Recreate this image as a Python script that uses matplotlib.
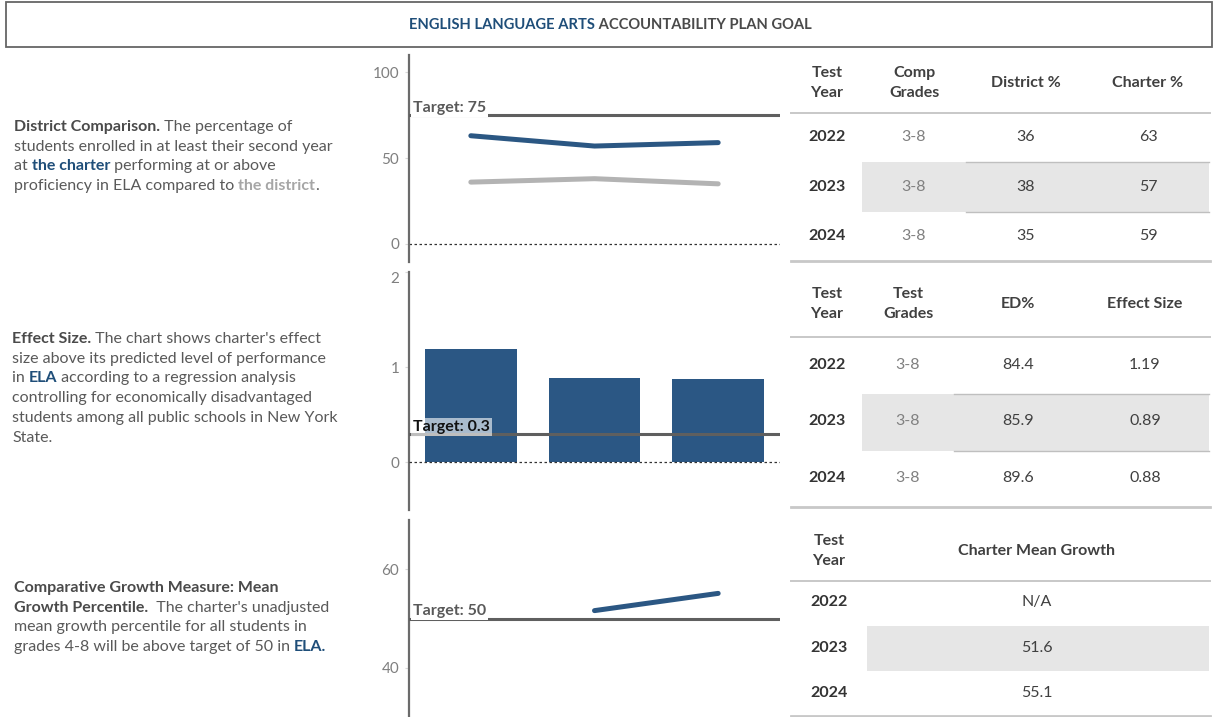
import numpy as np
import matplotlib
matplotlib.use('Agg')
import matplotlib.pyplot as plt
from matplotlib.patches import Rectangle
from matplotlib.lines import Line2D

# ---- data ----
years = ['2022', '2023', '2024']
comp_grades = ['3-8', '3-8', '3-8']
district_pct = [36, 38, 35]
charter_pct = [63, 57, 59]
test_grades = ['3-8', '3-8', '3-8']
ed_pct = [84.4, 85.9, 89.6]
effect_size = [1.19, 0.89, 0.88]
mean_growth = [np.nan, 51.6, 55.1]
target_prof = 75
target_effect = 0.3
target_growth = 50

W, H = 1217, 717
BLUE = '#1f4e79'
LINE_BLUE = '#2b5783'
DARK = '#404040'
GRAY = '#595959'
FONT = 'Lato'
TXT = 11.5   # paragraph / table font size

plt.rcParams['font.family'] = [FONT, 'DejaVu Sans']

fig = plt.figure(figsize=(W / 100, H / 100), dpi=100)
fig.patch.set_facecolor('white')

# overlay axes in pixel coordinates for texts, tables and the title box
ov = fig.add_axes([0, 0, 1, 1], zorder=0)
ov.set_xlim(0, W)
ov.set_ylim(H, 0)
ov.axis('off')
renderer = fig.canvas.get_renderer()

STYLES = {
    'n': dict(color=GRAY, fontweight='normal'),
    'b': dict(color='#4a4a4a', fontweight='bold'),
    'blue': dict(color=BLUE, fontweight='bold'),
    'lg': dict(color='#a6a6a6', fontweight='bold'),
}


def _w(s, size, style):
    t = ov.text(0, 0, s, fontsize=size, **STYLES[style])
    w = t.get_window_extent(renderer).width
    t.remove()
    return w


def seg_width(s, size, style):
    # advance width of s, measured between two 'H' guards
    return _w('H' + s + 'H', size, style) - _w('HH', size, style)


def rich_line(x, y, segs, size=TXT, ha='left'):
    widths = [seg_width(s, size, st) for s, st in segs]
    if ha == 'center':
        x = x - sum(widths) / 2
    for (s, st), w in zip(segs, widths):
        ov.text(x, y, s, fontsize=size, va='center', **STYLES[st])
        x += w


def paragraph(x, y0, lines, step=19.7, size=TXT):
    for i, segs in enumerate(lines):
        rich_line(x, y0 + i * step, segs, size)


# title box
ov.add_patch(Rectangle((6, 2), 1206, 45, fill=False, edgecolor='#666666', lw=1.3))
rich_line(610, 25, [('ENGLISH LANGUAGE ARTS', 'blue'),
                    (' ACCOUNTABILITY PLAN GOAL', 'b')], size=10.6, ha='center')

# left descriptions
paragraph(14, 127, [
    [('District Comparison.', 'b'), (' The percentage of', 'n')],
    [('students enrolled in at least their second year', 'n')],
    [('at ', 'n'), ('the charter', 'blue'), (' performing at or above', 'n')],
    [('proficiency in ELA compared to ', 'n'), ('the district', 'lg'), ('.', 'n')],
])
paragraph(12, 339, [
    [('Effect Size.', 'b'), (" The chart shows charter's effect", 'n')],
    [('size above its predicted level of performance', 'n')],
    [('in ', 'n'), ('ELA', 'blue'), (' according to a regression analysis', 'n')],
    [('controlling for economically disadvantaged', 'n')],
    [('students among all public schools in New York', 'n')],
    [('State.', 'n')],
])
paragraph(14, 588, [
    [('Comparative Growth Measure: Mean', 'b')],
    [('Growth Percentile.', 'b'), ("  The charter's unadjusted", 'n')],
    [('mean growth percentile for all students in', 'n')],
    [('grades 4-8 will be above target of 50 in ', 'n'), ('ELA.', 'blue')],
])


# ---- charts ----
def chart_axes(top, bottom):
    ax = fig.add_axes([409 / W, 1 - bottom / H, (780 - 409) / W, (bottom - top) / H], zorder=2)
    ax.patch.set_alpha(0)
    for sp in ['top', 'right', 'bottom']:
        ax.spines[sp].set_visible(False)
    ax.spines['left'].set_color('#6b6b6b')
    ax.spines['left'].set_linewidth(1.6)
    ax.set_xticks([])
    ax.tick_params(axis='y', length=3, color='#d9d9d9', labelcolor='#7f7f7f',
                   labelsize=11, pad=4)
    ax.set_xlim(-0.5, 2.5)
    return ax


def target(ax, val, label, box_alpha, text_color):
    ax.axhline(val, color='#5f5f5f', lw=2.2, zorder=3)
    ax.text(0.01, val, label, transform=ax.get_yaxis_transform(), ha='left', va='bottom',
            fontsize=11.5, fontweight='bold', color=text_color, zorder=4,
            bbox=dict(boxstyle='square,pad=0.12', fc='white', ec='none', alpha=box_alpha))


x = np.arange(len(years))

ax1 = chart_axes(55, 262)
ax1.set_ylim(-10.5, 110)
ax1.set_yticks([0, 50, 100])
ax1.axhline(0, color='#333333', lw=0.9, ls=(0, (2, 2)))
ax1.plot(x, district_pct, color='#b3b3b3', lw=3.6, solid_capstyle='round')
ax1.plot(x, charter_pct, color=LINE_BLUE, lw=3.6, solid_capstyle='round')
target(ax1, target_prof, 'Target: 75', 1.0, GRAY)

ax2 = chart_axes(272, 510)
ax2.set_ylim(-0.5, 2.0)
ax2.set_yticks([0, 1, 2])
ax2.yaxis.get_major_ticks()[-1].label1.set_va('top')
ax2.bar(x, effect_size, width=0.74, color='#2b5784', zorder=2)
ax2.axhline(0, color='#333333', lw=0.9, ls=(0, (2, 2)), zorder=3)
target(ax2, target_effect, 'Target: 0.3', 0.6, '#111111')

ax3 = chart_axes(520, 717)
ax3.set_ylim(30, 70)
ax3.set_yticks([40, 60])
ax3.plot(x, mean_growth, color=LINE_BLUE, lw=3.6, solid_capstyle='round')
target(ax3, target_growth, 'Target: 50', 1.0, GRAY)


# ---- tables ----
def hline(y, x0=791, x1=1210, lw=1.4, color='#c8c8c8'):
    ov.add_line(Line2D([x0, x1], [y, y], color=color, lw=lw))


def header(xc, yc, text):
    parts = text.split('\n')
    if len(parts) == 2:
        ov.text(xc, yc - 10, parts[0], ha='center', va='center', fontsize=TXT,
                fontweight='bold', color=DARK)
        ov.text(xc, yc + 10, parts[1], ha='center', va='center', fontsize=TXT,
                fontweight='bold', color=DARK)
    else:
        ov.text(xc, yc, text, ha='center', va='center', fontsize=TXT,
                fontweight='bold', color=DARK)


def table(cols_x, headers, columns, head_y, line_y, row_y, band, band_x0, bottom_y, band_line_x0=None):
    for xc, h in zip(cols_x, headers):
        header(xc, head_y, h)
    hline(line_y)
    ov.add_patch(Rectangle((band_x0, band[0]), 1209 - band_x0, band[1] - band[0],
                           fc='#e6e6e6', ec='none', zorder=0))
    if band_line_x0 is not None:
        hline(band[0], band_line_x0, 1209, lw=1.0, color='#bfbfbf')
        hline(band[1], band_line_x0, 1209, lw=1.0, color='#bfbfbf')
    for i, yr in enumerate(years):
        ov.text(cols_x[0], row_y[i], yr, ha='center', va='center', fontsize=TXT,
                fontweight='bold', color='#333333')
        for j, col in enumerate(columns):
            val, colr = col
            ov.text(cols_x[j + 1], row_y[i], val[i], ha='center', va='center',
                    fontsize=TXT, color=colr)
    hline(bottom_y, lw=2.0)


table([827, 914, 1026, 1148], ['Test\nYear', 'Comp\nGrades', 'District %', 'Charter %'],
      [(comp_grades, '#808080'), ([str(v) for v in district_pct], DARK),
       ([str(v) for v in charter_pct], DARK)],
      83, 113, [137, 187, 236], (162, 212), 862, 261, band_line_x0=966)

table([827, 908, 1018, 1145], ['Test\nYear', 'Test\nGrades', 'ED%', 'Effect Size'],
      [(test_grades, '#808080'), (['%.1f' % v for v in ed_pct], DARK),
       (['%.2f' % v for v in effect_size], DARK)],
      304, 337, [365, 421, 478], (394, 451), 862, 507, band_line_x0=954)

growth_txt = ['N/A' if np.isnan(v) else '%.1f' % v for v in mean_growth]
table([829, 1037], ['Test\nYear', 'Charter Mean Growth'],
      [(growth_txt, DARK)],
      551, 581, [602, 648, 693], (626, 671), 867, 716)

fig.savefig('out.png', dpi=100)
